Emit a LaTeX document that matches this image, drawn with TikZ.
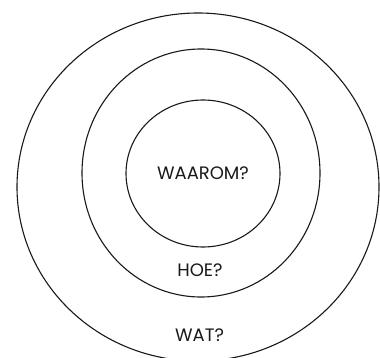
\documentclass[tikz,border=0pt]{standalone}
\usepackage{fontspec}
\setmainfont{Poppins}
\usetikzlibrary{shapes.geometric}
\tikzset{
  ring/.style={draw=black!90, line width=1.1pt, ellipse, inner sep=0pt, outer sep=0pt},
  lbl/.style={font=\fontsize{18}{21}\selectfont, text=black!90, inner sep=0pt}
}
\begin{document}
\begin{tikzpicture}[x=1pt,y=-1pt]
\useasboundingbox (0,0) rectangle (380,358);
\clip (0,0) rectangle (380,358);
\node[ring, minimum width=362pt, minimum height=348pt] (outer) at (198,187) {};
\node[ring, minimum width=238pt, minimum height=248pt] (middle) at (201,173) {};
\node[ring, minimum width=154pt, minimum height=147pt] (inner) at (203,173.5) {};
\node[lbl] (waarom) at (203,173) {WAAROM?};
\node[lbl] (hoe) at (200,270) {HOE?};
\node[lbl] (wat) at (199.5,335.5) {WAT?};
\end{tikzpicture}
\end{document}
